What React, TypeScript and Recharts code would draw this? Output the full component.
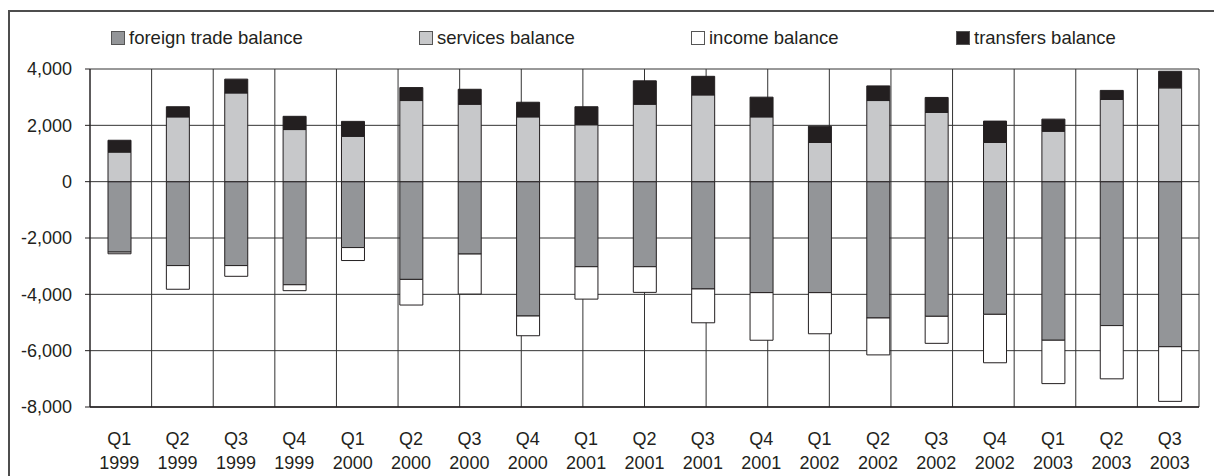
import React from 'react';
import { BarChart, Bar, XAxis, YAxis, CartesianGrid, Legend } from 'recharts';

const quarters = [
  'Q1 1999', 'Q2 1999', 'Q3 1999', 'Q4 1999',
  'Q1 2000', 'Q2 2000', 'Q3 2000', 'Q4 2000',
  'Q1 2001', 'Q2 2001', 'Q3 2001', 'Q4 2001',
  'Q1 2002', 'Q2 2002', 'Q3 2002', 'Q4 2002',
  'Q1 2003', 'Q2 2003', 'Q3 2003',
];
const tradeBalance = [-2500, -2980, -2980, -3660, -2340, -3470, -2570, -4770, -3020, -3020, -3810, -3940, -3940, -4840, -4780, -4710, -5630, -5110, -5860];
const servicesBalance = [1050, 2300, 3150, 1850, 1610, 2880, 2750, 2300, 2020, 2750, 3080, 2300, 1390, 2880, 2460, 1390, 1790, 2920, 3330];
const incomeBalance = [-60, -840, -380, -210, -460, -910, -1420, -700, -1150, -910, -1200, -1690, -1460, -1310, -960, -1720, -1540, -1890, -1940];
const transfersBalance = [420, 360, 490, 470, 530, 460, 530, 520, 640, 830, 660, 700, 580, 520, 530, 760, 430, 320, 590];
const seriesNames = ['foreign trade balance', 'services balance', 'income balance', 'transfers balance'];
const yTicks = [-8000, -6000, -4000, -2000, 0, 2000, 4000];

const data = quarters.map((q, i) => ({
  quarter: q,
  trade: tradeBalance[i],
  services: servicesBalance[i],
  income: incomeBalance[i],
  transfers: transfersBalance[i],
}));

// boundaries between quarters, used only for the vertical grid
const gridTicks = quarters.map((_, i) => i).concat(quarters.length);

const FONT = '"Liberation Sans", Arial, sans-serif';
const INK = '#231f20';
const legendX = [111, 419, 691, 956];

const QuarterTick = ({ x, y, payload }: any) => {
  const [q, yr] = String(payload.value).split(' ');
  return (
    <text textAnchor="middle" fontFamily={FONT} fontSize={18} fill={INK}>
      <tspan x={x} y={y + 30}>{q}</tspan>
      <tspan x={x} y={y + 54}>{yr}</tspan>
    </text>
  );
};

const renderLegend = (props: any) => {
  const items = [...(props.payload || [])].sort(
    (a: any, b: any) => seriesNames.indexOf(a.value) - seriesNames.indexOf(b.value)
  );
  return (
    <div style={{ position: 'relative', width: 1214, height: 30, fontFamily: FONT, fontSize: 18.5, color: INK }}>
      {items.map((entry: any, i: number) => (
        <div key={entry.value} style={{ position: 'absolute', left: legendX[i], top: 0, display: 'flex', alignItems: 'center', whiteSpace: 'nowrap' }}>
          <span style={{ display: 'inline-block', width: 12, height: 12, background: entry.color, border: '1px solid #555', marginRight: 4 }} />
          {entry.value}
        </div>
      ))}
    </div>
  );
};

export default function App() {
  return (
    <div style={{ position: 'absolute', left: 0, top: 0, width: 1214, height: 476, background: '#fff', overflow: 'hidden' }}>
      <div style={{ position: 'absolute', left: 8, top: 10, width: 1220, height: 480, borderLeft: '2px solid #4d4d4d', borderTop: '2px solid #4d4d4d' }} />
      <div style={{ position: 'absolute', left: 0, top: 0 }}>
        <BarChart
          width={1214}
          height={476}
          data={data}
          stackOffset="sign"
          margin={{ top: 39, right: 15, bottom: 0, left: 0 }}
        >
          <CartesianGrid stroke="#333" strokeWidth={1} xAxisId="grid" />
          <XAxis
            dataKey="quarter"
            axisLine={{ stroke: INK, strokeWidth: 1.5 }}
            tickLine={false}
            height={69}
            interval={0}
            tick={<QuarterTick />}
          />
          <XAxis xAxisId="grid" type="number" domain={[0, quarters.length]} ticks={gridTicks} allowDataOverflow hide />
          <YAxis
            width={90}
            domain={[-8000, 4000]}
            ticks={yTicks}
            allowDataOverflow
            axisLine={{ stroke: INK }}
            tickLine={{ stroke: INK }}
            tickSize={5}
            tickMargin={13}
            tickFormatter={(v: number) => v.toLocaleString('en-US')}
            tick={{ fontFamily: FONT, fontSize: 18, fill: INK }}
          />
          <Legend verticalAlign="top" itemSorter={null as any} content={renderLegend} wrapperStyle={{ top: 27, left: 0 }} />
          <Bar dataKey="trade" name={seriesNames[0]} stackId="a" fill="#939598" stroke={INK} strokeWidth={1} barSize={23} isAnimationActive={false} />
          <Bar dataKey="services" name={seriesNames[1]} stackId="a" fill="#c7c8ca" stroke={INK} strokeWidth={1} barSize={23} isAnimationActive={false} />
          <Bar dataKey="income" name={seriesNames[2]} stackId="a" fill="#ffffff" stroke={INK} strokeWidth={1} barSize={23} isAnimationActive={false} />
          <Bar dataKey="transfers" name={seriesNames[3]} stackId="a" fill={INK} stroke={INK} strokeWidth={1} barSize={23} isAnimationActive={false} />
        </BarChart>
      </div>
    </div>
  );
}
